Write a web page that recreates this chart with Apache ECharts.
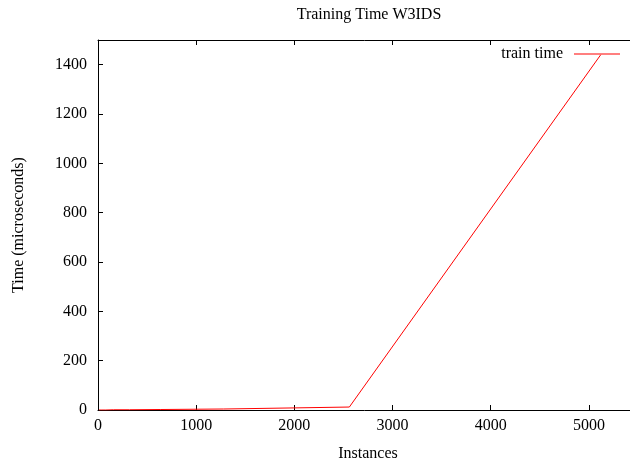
<!DOCTYPE html>
<html>
<head>
<meta charset="utf-8">
<script src="https://cdn.jsdelivr.net/npm/echarts@6/dist/echarts.min.js"></script>
<style>
  html, body { margin: 0; padding: 0; background: #fff; }
  #chart { width: 630px; height: 461px; }
</style>
</head>
<body>
<div id="chart"></div>
<script>
// instances (x) and training time in microseconds (y)
var instances = [10, 20, 40, 80, 160, 320, 640, 1280, 2560, 5120];
var trainTime = [0, 0, 0, 0, 1, 1, 2, 4, 12, 1440];
var xTicks = [0, 1000, 2000, 3000, 4000, 5000];
var yTicks = [0, 200, 400, 600, 800, 1000, 1200, 1400];

var font = "'Liberation Serif', 'DejaVu Serif', serif";

var chart = echarts.init(document.getElementById("chart"));

var points = instances.map(function (x, i) { return [x, trainTime[i]]; });

chart.setOption({
  animation: false,
  backgroundColor: "#fff",
  title: {
    text: "Training Time W3IDS",
    left: 364,
    top: 2,
    textAlign: "center",
    textStyle: { fontFamily: font, fontSize: 16, fontWeight: "normal", color: "#000" }
  },
  legend: {
    right: 10,
    top: 46,
    padding: 0,
    align: "right",
    itemWidth: 46,
    itemHeight: 14,
    itemGap: 10,
    textStyle: { fontFamily: font, fontSize: 16, color: "#000", padding: [0, 6, 0, 0] },
    data: [{ name: "train time", icon: "path://M0,0L46,0L46,1L0,1Z" }]
  },
  grid: {
    left: 98,
    top: 40,
    bottom: 51,
    right: -8, // plot runs past the right edge, as in the picture
    outerBoundsMode: "none"
  },
  xAxis: [
    {
      type: "value",
      min: 0,
      max: 5500,
      interval: 1000,
      name: "Instances",
      nameLocation: "middle",
      nameGap: 36,
      nameTextStyle: { fontFamily: font, fontSize: 16, color: "#000" },
      axisLine: { show: true, lineStyle: { color: "#000", width: 1 } },
      axisTick: { show: true, inside: true, length: 5, lineStyle: { color: "#000" } },
      axisLabel: {
        margin: 8,
        fontFamily: font, fontSize: 16, color: "#000",
        showMaxLabel: false,
        formatter: function (v) { return xTicks.indexOf(v) >= 0 ? String(v) : ""; }
      },
      splitLine: { show: false }
    },
    {
      // mirror ticks along the top border
      type: "value",
      position: "top",
      min: 0,
      max: 5500,
      interval: 1000,
      axisLine: { show: true, lineStyle: { color: "#000", width: 1 } },
      axisTick: { show: true, inside: true, length: 5, lineStyle: { color: "#000" } },
      axisLabel: { show: false },
      splitLine: { show: false }
    }
  ],
  yAxis: {
    type: "value",
    min: 0,
    max: 1500,
    interval: 200,
    name: "Time (microseconds)",
    nameLocation: "middle",
    nameGap: 71,
    nameRotate: 90,
    nameTextStyle: { fontFamily: font, fontSize: 16, color: "#000" },
    axisLine: { show: true, lineStyle: { color: "#000", width: 1 } },
    axisTick: { show: true, inside: true, length: 5, lineStyle: { color: "#000" } },
    axisLabel: {
      margin: 11,
      fontFamily: font, fontSize: 16, color: "#000",
      showMaxLabel: false,
      formatter: function (v) { return yTicks.indexOf(v) >= 0 ? String(v) : ""; }
    },
    splitLine: { show: false }
  },
  series: [
    {
      name: "train time",
      type: "line",
      data: points,
      symbol: "none",
      lineStyle: { color: "#ff0000", width: 1 },
      itemStyle: { color: "#ff0000" }
    }
  ]
});
</script>
</body>
</html>
